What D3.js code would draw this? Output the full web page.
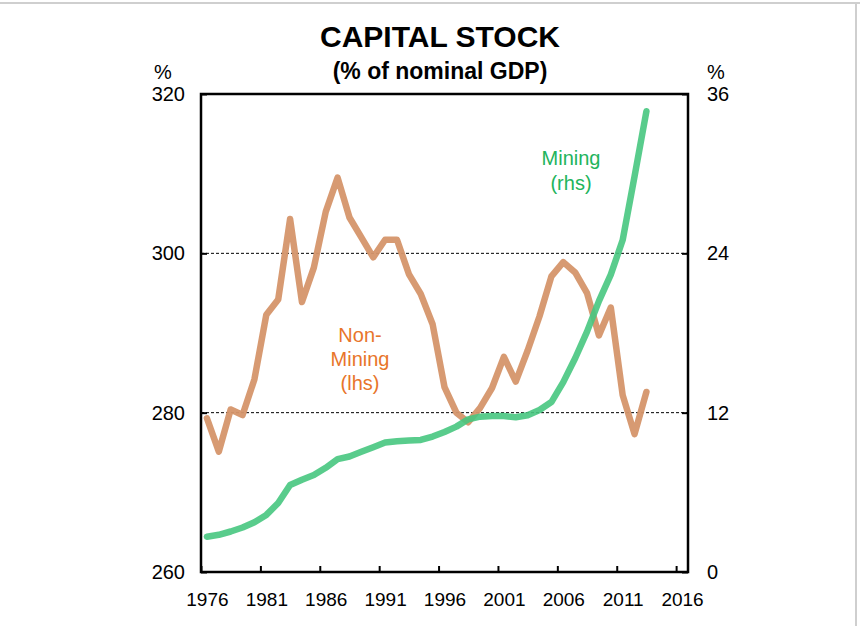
<!DOCTYPE html>
<html>
<head>
<meta charset="utf-8">
<script src="https://cdn.jsdelivr.net/npm/d3@7"></script>
<style>
  body { margin: 0; background: #fff; }
  svg { display: block; font-family: Arial, "Liberation Sans", sans-serif; }
</style>
</head>
<body>
<svg id="chart" width="860" height="626"></svg>
<script>
// Years covered by both series (annual observations)
const years = d3.range(1976, 2014);

// Non-mining capital stock, % of nominal GDP (left-hand scale)
const nonMining = [
  279.3, 275.1, 280.4, 279.7, 284.2, 292.3, 294.2, 304.3, 293.9, 298.2,
  305.2, 309.5, 304.5, 302.0, 299.5, 301.7, 301.7, 297.4, 294.9, 291.1,
  283.2, 280.0, 278.8, 280.6, 283.1, 287.0, 283.9, 287.8, 292.1, 297.1,
  298.9, 297.6, 295.0, 289.7, 293.2, 282.2, 277.3, 282.6
];

// Mining capital stock, % of nominal GDP (right-hand scale)
const mining = [
  2.65, 2.8, 3.05, 3.35, 3.75, 4.3, 5.2, 6.55, 6.95, 7.3,
  7.85, 8.5, 8.7, 9.05, 9.4, 9.75, 9.85, 9.9, 9.95, 10.2,
  10.55, 10.95, 11.5, 11.7, 11.75, 11.75, 11.65, 11.8, 12.2, 12.8,
  14.3, 16.1, 18.1, 20.4, 22.4, 25.0, 29.8, 34.7
];

// Axis ticks
const xTickYears = [1976, 1981, 1986, 1991, 1996, 2001, 2006, 2011, 2016];
const leftTicks = [260, 280, 300, 320];
const rightTicks = [0, 12, 24, 36];

const svg = d3.select("#chart");
const plot = { left: 201, right: 688, top: 94, bottom: 572 };

const x = d3.scaleLinear().domain([1976, 2017]).range([plot.left, plot.right]);
const yL = d3.scaleLinear().domain([260, 320]).range([plot.bottom, plot.top]);
const yR = d3.scaleLinear().domain([0, 36]).range([plot.bottom, plot.top]);

// Outer border of the graphic
svg.append("line").attr("x1", 0).attr("x2", 860).attr("y1", 3).attr("y2", 3)
  .attr("stroke", "#cfcfcf").attr("stroke-width", 2);
svg.append("line").attr("x1", 856).attr("x2", 856).attr("y1", 3).attr("y2", 626)
  .attr("stroke", "#cfcfcf").attr("stroke-width", 2);

// Titles
svg.append("text").attr("x", 440).attr("y", 47).attr("text-anchor", "middle")
  .attr("font-size", 30).attr("font-weight", "bold").text("CAPITAL STOCK");
svg.append("text").attr("x", 440).attr("y", 79).attr("text-anchor", "middle")
  .attr("font-size", 23).attr("font-weight", "bold").text("(% of nominal GDP)");

// Unit labels
svg.append("text").attr("x", 163).attr("y", 79).attr("text-anchor", "middle")
  .attr("font-size", 20).text("%");
svg.append("text").attr("x", 716).attr("y", 79).attr("text-anchor", "middle")
  .attr("font-size", 20).text("%");

// Dotted horizontal gridlines
svg.append("g").selectAll("line").data([280, 300]).join("line")
  .attr("x1", plot.left).attr("x2", plot.right)
  .attr("y1", d => yL(d)).attr("y2", d => yL(d))
  .attr("stroke", "#000").attr("stroke-width", 1)
  .attr("stroke-dasharray", "3,2");

// Left axis (ticks point inward)
const gL = svg.append("g").attr("transform", `translate(${plot.left},0)`)
  .call(d3.axisLeft(yL).tickValues(leftTicks).tickSizeInner(-6).tickSizeOuter(0).tickPadding(16));
// Right axis
const gR = svg.append("g").attr("transform", `translate(${plot.right},0)`)
  .call(d3.axisRight(yR).tickValues(rightTicks).tickSizeInner(-6).tickSizeOuter(0).tickPadding(19));
// Bottom axis: tick marks on year boundaries
const gB = svg.append("g").attr("transform", `translate(0,${plot.bottom})`)
  .call(d3.axisBottom(x).tickValues(xTickYears).tickSizeInner(-6).tickSizeOuter(0).tickFormat(""));
// Bottom axis labels, centred within each year
const gBL = svg.append("g").attr("transform", `translate(0,${plot.bottom})`)
  .call(d3.axisBottom(d3.scaleLinear().domain(x.domain().map(d => d - 0.5)).range(x.range()))
    .tickValues(xTickYears).tickSize(0).tickPadding(21).tickFormat(d3.format("d")));

[gL, gR, gB, gBL].forEach(g => {
  g.selectAll("text").attr("font-size", 20).attr("fill", "#000").attr("font-family", null);
  g.selectAll(".tick line").attr("stroke", "#000").attr("stroke-width", 2);
  g.select(".domain").remove();
});
gBL.selectAll("text").attr("font-size", 19);

// Lines
const lineL = d3.line().x((d, i) => x(years[i] + 0.5)).y(d => yL(d));
const lineR = d3.line().x((d, i) => x(years[i] + 0.5)).y(d => yR(d));

svg.append("path").datum(nonMining).attr("d", lineL)
  .attr("fill", "none").attr("stroke", "#d5956a").attr("stroke-width", 6.5)
  .attr("stroke-linejoin", "round").attr("stroke-linecap", "round").attr("opacity", 0.95);
svg.append("path").datum(mining).attr("d", lineR)
  .attr("fill", "none").attr("stroke", "#47c680").attr("stroke-width", 6.5)
  .attr("stroke-linejoin", "round").attr("stroke-linecap", "round").attr("opacity", 0.9);

// Plot frame
svg.append("rect").attr("x", plot.left).attr("y", plot.top)
  .attr("width", plot.right - plot.left).attr("height", plot.bottom - plot.top)
  .attr("fill", "none").attr("stroke", "#000").attr("stroke-width", 2.5);

// Series labels
const nmLabel = svg.append("text").attr("text-anchor", "middle")
  .attr("font-size", 20).attr("fill", "#e8752a");
["Non-", "Mining", "(lhs)"].forEach((t, i) => {
  nmLabel.append("tspan").attr("x", 360).attr("y", 342 + i * 24).text(t);
});
const mLabel = svg.append("text").attr("text-anchor", "middle")
  .attr("font-size", 20).attr("fill", "#22b45c");
["Mining", "(rhs)"].forEach((t, i) => {
  mLabel.append("tspan").attr("x", 571).attr("y", 165 + i * 25).text(t);
});
</script>
</body>
</html>
